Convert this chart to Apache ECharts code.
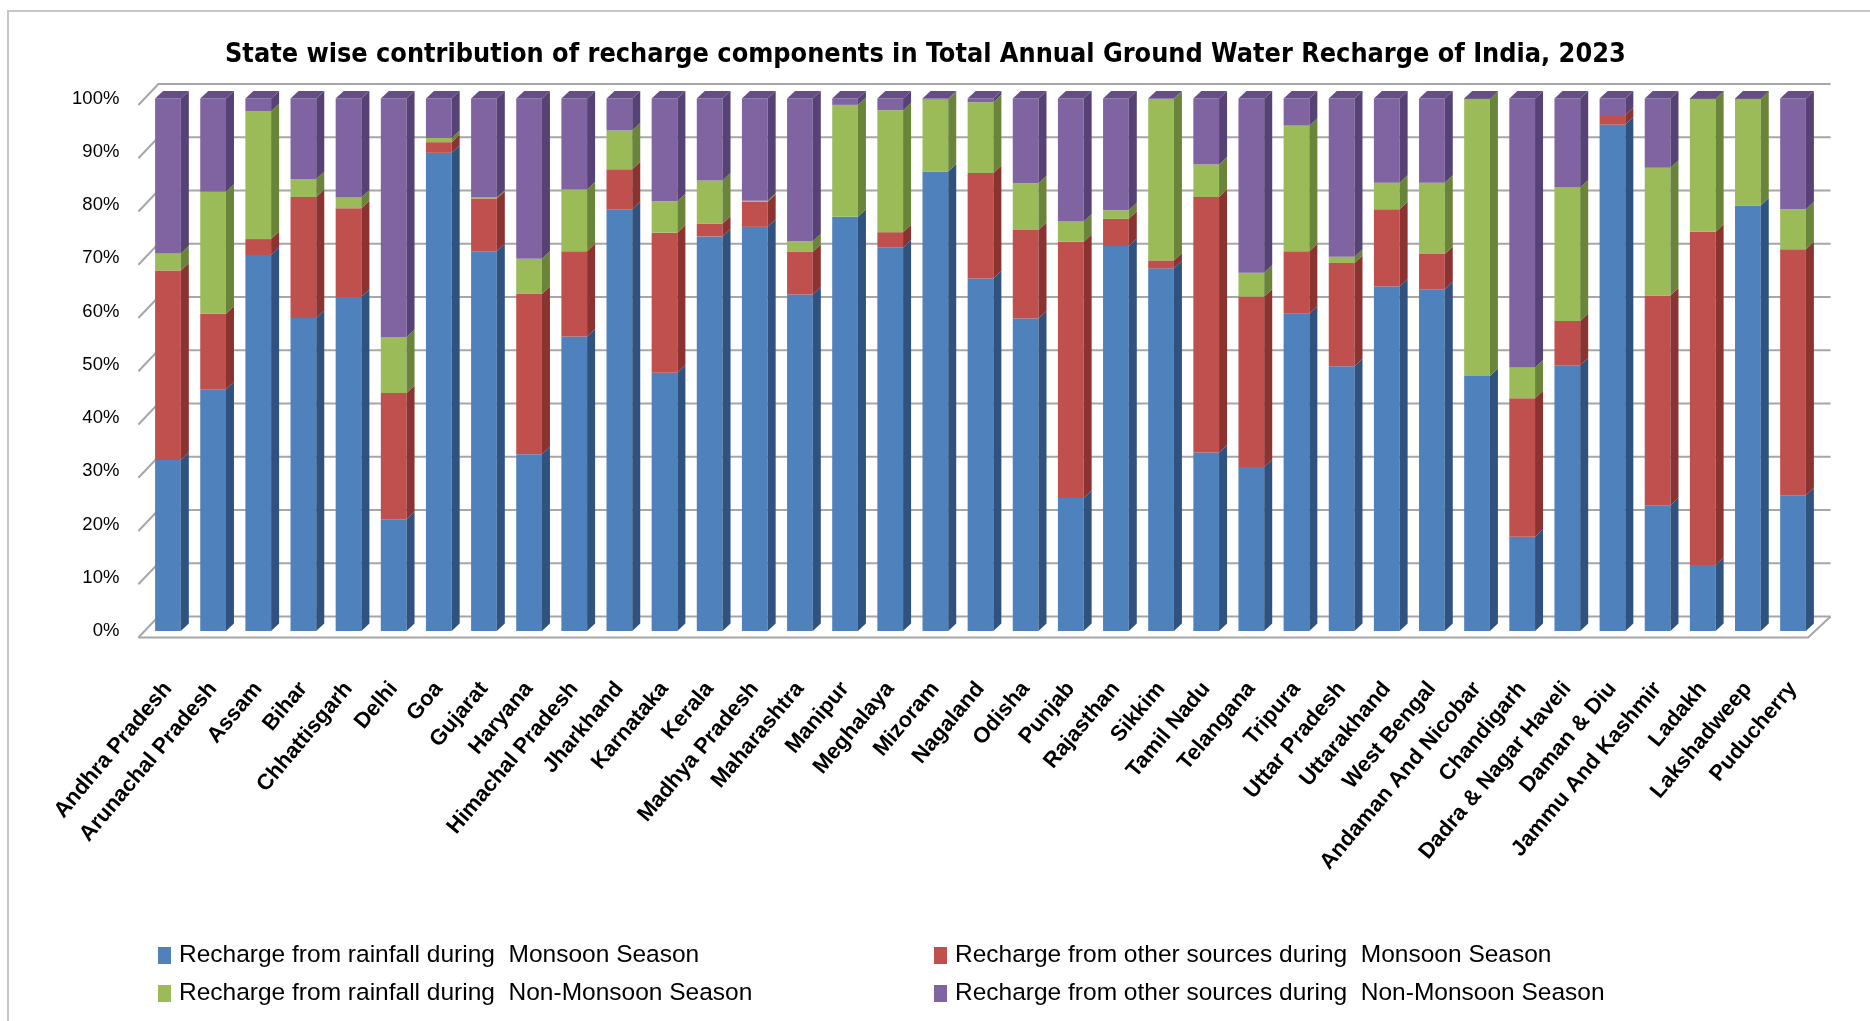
<!DOCTYPE html>
<html>
<head>
<meta charset="utf-8">
<title>Ground Water Recharge 2023</title>
<script src="https://cdn.jsdelivr.net/npm/echarts@6/dist/echarts.min.js"></script>
<style>
 html, body { margin: 0; padding: 0; background: #fff; overflow: hidden; }
 #frame { position: absolute; left: 7px; top: 10px; width: 1900px; height: 1100px; border: 2px solid #c6c6c6; }
 #main { position: absolute; left: 0; top: 0; width: 1870px; height: 1021px; }
</style>
</head>
<body>
<div id="frame"></div>
<div id="main"></div>
<script>
const states = ['Andhra Pradesh', 'Arunachal Pradesh', 'Assam', 'Bihar', 'Chhattisgarh', 'Delhi', 'Goa', 'Gujarat',
 'Haryana', 'Himachal Pradesh', 'Jharkhand', 'Karnataka', 'Kerala', 'Madhya Pradesh', 'Maharashtra', 'Manipur',
 'Meghalaya', 'Mizoram', 'Nagaland', 'Odisha', 'Punjab', 'Rajasthan', 'Sikkim', 'Tamil Nadu', 'Telangana', 'Tripura',
 'Uttar Pradesh', 'Uttarakhand', 'West Bengal', 'Andaman And Nicobar', 'Chandigarh', 'Dadra & Nagar Haveli',
 'Daman & Diu', 'Jammu And Kashmir', 'Ladakh', 'Lakshadweep', 'Puducherry']

// share of each component, %
const rainMonsoon = [32.1, 45.4, 70.6, 58.8, 62.7, 21.0, 89.8, 71.3, 33.2, 55.3, 79.2, 48.5, 74.1, 75.9, 63.2, 77.8,
 72.0, 86.3, 66.2, 58.7, 25.0, 72.3, 68.1, 33.5, 30.8, 59.6, 49.7, 64.7, 64.2, 47.9, 17.7, 49.9, 95.1, 23.6, 12.4, 79.9, 25.5]
const otherMonsoon = [35.6, 14.2, 3.0, 22.7, 16.7, 23.7, 2.0, 9.9, 30.1, 16.0, 7.5, 26.3, 2.4, 4.7, 8.0, 0.0,
 2.9, 0.0, 19.8, 16.6, 48.1, 5.1, 1.5, 48.0, 32.0, 11.7, 19.4, 14.5, 6.6, 0.0, 26.0, 8.3, 1.8, 39.4, 62.6, 0.0, 46.2]
const rainNonMonsoon = [3.2, 22.9, 24.0, 3.4, 2.0, 10.5, 0.8, 0.2, 6.6, 11.6, 7.3, 5.9, 8.1, 0.2, 2.0, 21.0,
 22.9, 13.5, 13.3, 8.8, 3.8, 1.6, 30.3, 6.1, 4.5, 23.6, 1.2, 5.0, 13.4, 52.0, 5.8, 25.1, 0.0, 24.0, 24.9, 20.0, 7.5]
const otherNonMonsoon = [29.1, 17.5, 2.4, 15.1, 18.6, 44.8, 7.4, 18.6, 30.1, 17.1, 6.0, 19.3, 15.4, 19.2, 26.8, 1.2,
 2.2, 0.2, 0.7, 15.9, 23.1, 21.0, 0.1, 12.4, 32.7, 5.1, 29.7, 15.8, 15.8, 0.1, 50.5, 16.7, 3.1, 13.0, 0.1, 0.1, 20.8]

const yTicks = [0, 10, 20, 30, 40, 50, 60, 70, 80, 90, 100]

const parts = [
 { name: 'Recharge from rainfall during  Monsoon Season', data: rainMonsoon, color: '#4f81bd', side: '#30527f', top: '#3d6699' },
 { name: 'Recharge from other sources during  Monsoon Season', data: otherMonsoon, color: '#c0504d', side: '#8a3331', top: '#9c3e3b' },
 { name: 'Recharge from rainfall during  Non-Monsoon Season', data: rainNonMonsoon, color: '#9bbb59', side: '#6a843a', top: '#7f9c45' },
 { name: 'Recharge from other sources during  Non-Monsoon Season', data: otherNonMonsoon, color: '#8064a2', side: '#564275', top: '#654d86' }
]

const DX = 8, DY = -7.5

// cumulative bottoms for the stack
const base = states.map(() => 0)
const barSeries = parts.map(function (p) {
 const rows = p.data.map(function (v, i) {
  const lo = base[i]
  base[i] += v
  return [i, lo, base[i]]
 })
 return {
  name: p.name,
  type: 'custom',
  itemStyle: { color: p.color },
  encode: { x: 0, y: [1, 2] },
  data: rows,
  renderItem: function (params, api) {
   const lo = api.value(1), hi = api.value(2)
   if (hi - lo <= 0) return
   const a = api.coord([api.value(0), lo])
   const b = api.coord([api.value(0), hi])
   const w = api.size([1, 0])[0] * 0.57
   const x0 = a[0] - w / 2, yb = a[1], yt = b[1]
   const kids = [
    { type: 'rect', shape: { x: x0, y: yt, width: w, height: yb - yt }, style: { fill: p.color } },
    { type: 'polygon', shape: { points: [[x0 + w, yt], [x0 + w + DX, yt + DY], [x0 + w + DX, yb + DY], [x0 + w, yb]] }, style: { fill: p.side } }
   ]
   if (hi >= 99.9) {
    kids.push({ type: 'polygon', shape: { points: [[x0, yt], [x0 + DX, yt + DY], [x0 + w + DX, yt + DY], [x0 + w, yt]] }, style: { fill: p.top } })
   }
   return { type: 'group', children: kids }
  }
 }
})

// back wall, side wall and floor lines
const wallSeries = {
 type: 'custom',
 silent: true,
 z: 1,
 data: yTicks.map(v => [0, v]),
 encode: { x: 0, y: 1 },
 renderItem: function (params, api) {
  const cs = params.coordSys
  const y = api.coord([0, api.value(1)])[1]
  const line = { stroke: '#a6a6a6', lineWidth: 2, fill: null }
  const kids = [
   { type: 'polyline', shape: { points: [[cs.x - 7, y + 6.5], [cs.x + 13, y - 14.5], [cs.x + cs.width + 15, y - 14.5]] }, style: line }
  ]
  if (api.value(1) === 0) {
   kids.push({ type: 'polyline', shape: { points: [[cs.x - 7, y + 6.5], [cs.x + cs.width - 7.5, y + 6.5], [cs.x + cs.width + 15, y - 14.5]] }, style: line })
  }
  return { type: 'group', children: kids }
 }
}

const legendPos = [[158, 943], [934, 943], [158, 981], [934, 981]]
const legends = parts.map(function (p, i) {
 return {
  data: [p.name],
  left: legendPos[i][0],
  top: legendPos[i][1],
  padding: 0,
  icon: 'rect',
  itemWidth: 13,
  itemHeight: 17,
  selectedMode: false,
  textStyle: { fontFamily: 'Liberation Sans', fontSize: 24.5, color: '#000', padding: [0, 0, 0, 3] }
 }
})

const myChart = echarts.init(document.getElementById('main'))
const option = {
 animation: false,
 title: {
  text: 'State wise contribution of recharge components in Total Annual Ground Water Recharge of India, 2023',
  left: 225,
  top: 42,
  padding: 0,
  textStyle: { fontFamily: "'Liberation Sans Narrow', 'DejaVu Sans Condensed', sans-serif", fontWeight: 'bold', fontSize: 26.8, color: '#000' }
 },
 legend: legends,
 grid: { left: 145.4, right: 54.4, top: 98.5, bottom: 390 },
 xAxis: {
  type: 'category',
  data: states,
  axisLine: { show: false },
  axisTick: { show: false },
  axisLabel: {
   interval: 0,
   rotate: 50,
   margin: 54,
   fontFamily: 'Liberation Sans',
   fontWeight: 'bold',
   fontSize: 22,
   color: '#000'
  }
 },
 yAxis: {
  type: 'value',
  min: 0,
  max: 100,
  interval: 10,
  axisLine: { show: false },
  axisTick: { show: false },
  splitLine: { show: false },
  axisLabel: {
   formatter: '{value}%',
   margin: 26,
   padding: [13, 0, 0, 0],
   fontFamily: 'Liberation Sans',
   fontSize: 18.5,
   color: '#000'
  }
 },
 series: [wallSeries].concat(barSeries)
}
myChart.setOption(option)
</script>
</body>
</html>
